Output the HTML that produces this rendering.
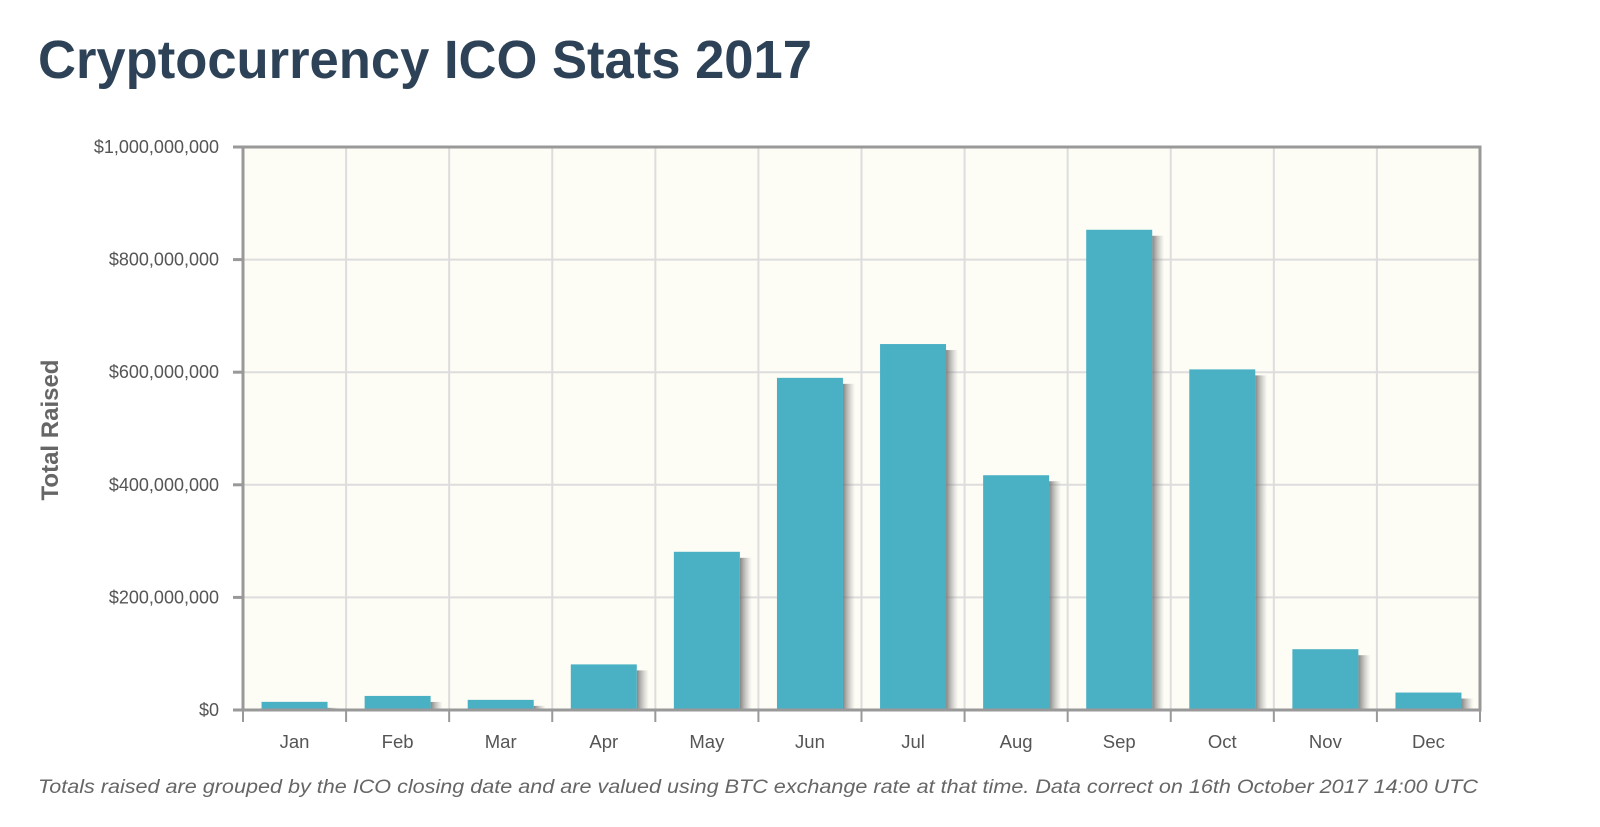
<!DOCTYPE html>
<html><head><meta charset="utf-8"><style>
html,body{margin:0;padding:0;background:#fff;width:1600px;height:827px;overflow:hidden}
svg{display:block}
</style></head><body>
<svg id="chart" width="1600" height="827" viewBox="0 0 1600 827">
<defs>
<linearGradient id="shadow" x1="0" x2="1" y1="0" y2="0">
<stop offset="0" stop-color="#666" stop-opacity="0.8"/><stop offset="1" stop-color="#999" stop-opacity="0"/>
</linearGradient>
</defs>
<text x="38" y="78" font-family="Liberation Sans, sans-serif" font-weight="bold" font-size="54" fill="#2e4257" textLength="774" lengthAdjust="spacingAndGlyphs">Cryptocurrency ICO Stats 2017</text>
<rect x="243" y="147" width="1237" height="563" fill="#fdfcf5"/>
<g id="grid"></g>
<g id="bars"></g>
<g id="axes"></g>
<text transform="translate(58,430) rotate(-90)" text-anchor="middle" font-family="Liberation Sans, sans-serif" font-weight="bold" font-size="24" fill="#666">Total Raised</text>
<text x="38" y="793" font-family="Liberation Sans, sans-serif" font-style="italic" font-size="19.5" fill="#666" textLength="1440" lengthAdjust="spacingAndGlyphs">Totals raised are grouped by the ICO closing date and are valued using BTC exchange rate at that time. Data correct on 16th October 2017 14:00 UTC</text>
</svg>
<script>
const categories = ["Jan","Feb","Mar","Apr","May","Jun","Jul","Aug","Sep","Oct","Nov","Dec"];
const totalRaised = [14500000,25000000,18000000,81000000,281000000,590000000,650000000,417000000,853000000,605000000,108000000,31000000];
const yTicks = [0,200000000,400000000,600000000,800000000,1000000000];
const yTickLabels = ["$0","$200,000,000","$400,000,000","$600,000,000","$800,000,000","$1,000,000,000"];

const NS="http://www.w3.org/2000/svg";
const L=243,R=1480,T=147,B=710,yMax=1000000000;
const colW=(R-L)/categories.length;
const y=v=>B-(v/yMax)*(B-T);
const x=i=>L+i*colW;
function mk(tag,attrs,parent){const e=document.createElementNS(NS,tag);for(const k in attrs)e.setAttribute(k,attrs[k]);parent.appendChild(e);return e;}
const grid=document.getElementById('grid'),bars=document.getElementById('bars'),axes=document.getElementById('axes');
yTicks.forEach((t,i)=>{
  const g=mk('line',{x1:L,x2:R,y1:y(t),y2:y(t),stroke:'#ddd','stroke-width':2},grid);
  
  
  const tk=mk('line',{x1:L-10,x2:L,y1:y(t),y2:y(t),stroke:'#999','stroke-width':3},axes);
  
  
  const lb=mk('text',{x:219,y:y(t)+6,'text-anchor':'end','font-family':'Liberation Sans, sans-serif','font-size':18,fill:'#555'},axes);
  lb.textContent=yTickLabels[i];
  
  
});
for(let i=1;i<categories.length;i++){
  const g=mk('line',{x1:x(i),x2:x(i),y1:T,y2:B,stroke:'#ddd','stroke-width':2},grid);
  
  
}
categories.forEach((c,i)=>{
  const bw=66,bx=x(i)+(colW-bw)/2,by=y(totalRaised[i]);
  const sh=mk('rect',{x:bx+bw,y:by+6,width:12,height:B-by-6,fill:'url(#shadow)'},bars);
  
  
  const r=mk('rect',{x:bx,y:by,width:bw,height:B-by,fill:'#4ab1c5'},bars);
  
  
  const lb=mk('text',{x:x(i)+colW/2,y:B+38,'text-anchor':'middle','font-family':'Liberation Sans, sans-serif','font-size':18.5,fill:'#555'},axes);
  lb.textContent=c;
  
  
});
for(let i=0;i<=categories.length;i++){
  const tk=mk('line',{x1:x(i),x2:x(i),y1:B,y2:B+12,stroke:'#999','stroke-width':2},axes);
  
  
}
const fr=mk('rect',{x:L,y:T,width:R-L,height:B-T,fill:'none',stroke:'#999','stroke-width':3},axes);


</script>
</body></html>
